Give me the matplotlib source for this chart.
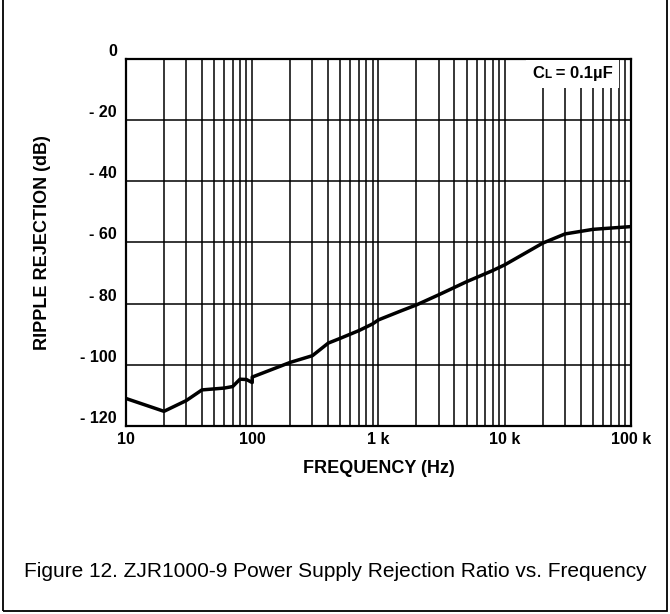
import matplotlib
matplotlib.use("Agg")
import matplotlib.pyplot as plt
from matplotlib.patches import Rectangle
from matplotlib.offsetbox import TextArea, HPacker, AnchoredOffsetbox

# data
freq_hz = [10, 20, 30, 40, 60, 70, 80, 90, 100, 100, 200, 300, 400, 500,
           700, 900, 1000, 1500, 2000, 3000, 5000, 8000, 10000, 20000,
           30000, 50000, 100000]
rejection_db = [-111, -115.2, -111.7, -108.2, -107.6, -107.1, -104.7, -104.8,
                -105.8, -104, -99.2, -97, -92.9, -91.3, -88.8, -86.6, -85.3,
                -82.4, -80.4, -77.1, -72.8, -69.2, -67.3, -60.2, -57.2,
                -55.7, -54.8]
x_ticks = [10, 100, 1000, 10000, 100000]
x_tick_labels = ["10", "100", "1 k", "10 k", "100 k"]
y_ticks = [0, -20, -40, -60, -80, -100, -120]
y_tick_labels = ["0", "- 20", "- 40", "- 60", "- 80", "- 100", "- 120"]

NARROW = ["Liberation Sans Narrow", "Liberation Sans", "DejaVu Sans"]
SANS = ["Liberation Sans", "DejaVu Sans"]

fig = plt.figure(figsize=(6.7, 6.14), dpi=100)
ax = fig.add_axes([0.188, 0.3062, 0.7538, 0.5977])

ax.plot(freq_hz, rejection_db, color="black", lw=2.5, solid_joinstyle="round", zorder=3)

ax.set_xscale("log")
ax.set_xlim(10, 100000)
ax.set_ylim(-120, 0)

ax.set_xticks(x_ticks)
ax.set_xticklabels(x_tick_labels)
ax.set_yticks(y_ticks)
ax.set_yticklabels(y_tick_labels)
ax.tick_params(which="both", length=0)
ax.tick_params(axis="y", pad=6.5)
ax.tick_params(axis="x", pad=4)
for lab in ax.get_xticklabels() + ax.get_yticklabels():
    lab.set_family(NARROW)
    lab.set_fontweight("bold")
    lab.set_fontsize(11.5)
for lab in ax.get_yticklabels():
    lab.set_va("bottom")

ax.grid(True, which="both", color="black", lw=1.1)
for s in ax.spines.values():
    s.set_linewidth(1.6)

ax.set_xlabel("FREQUENCY (Hz)", family=SANS, fontweight="bold", fontsize=13, labelpad=10)
ax.set_ylabel("RIPPLE REJECTION (dB)", family=SANS, fontweight="bold", fontsize=13, labelpad=21)

# C_L annotation in the top-right corner
parts = [TextArea("C", textprops=dict(family=NARROW, fontweight="bold", fontsize=12)),
         TextArea("L", textprops=dict(family=NARROW, fontweight="bold", fontsize=8.5)),
         TextArea(" = 0.1µF", textprops=dict(family=NARROW, fontweight="bold", fontsize=12))]
box = HPacker(children=parts, align="baseline", pad=0, sep=0)
anch = AnchoredOffsetbox(loc="upper right", child=box, pad=0.45, borderpad=0.0,
                         frameon=True, bbox_to_anchor=(0.977, 0.997),
                         bbox_transform=ax.transAxes)
anch.patch.set_facecolor("white")
anch.patch.set_edgecolor("none")
anch.zorder = 4
ax.add_artist(anch)

# caption and outer frame
fig.text(0.5, 0.070, "Figure 12. ZJR1000-9 Power Supply Rejection Ratio vs. Frequency",
         ha="center", va="center", family=NARROW, fontsize=15)
fig.patches.append(Rectangle((3 / 670, 3 / 614), 664 / 670, 1.2, transform=fig.transFigure,
                             fill=False, edgecolor="black", lw=1.3))

fig.savefig("out.png", dpi=100)
